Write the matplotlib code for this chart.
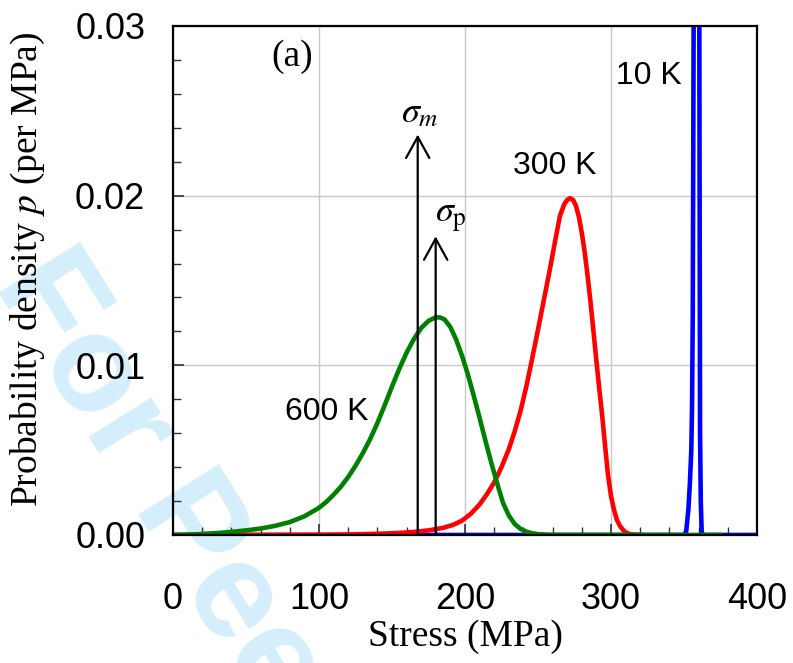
import matplotlib
matplotlib.use("Agg")
import matplotlib.pyplot as plt
from matplotlib.ticker import MultipleLocator, FormatStrFormatter

plt.rcParams['mathtext.fontset'] = 'stix'

# Densidades de probabilidad leidas por puntos (MPa, 1/MPa)
x_10k = [0, 340, 350, 351.5, 353, 354, 355, 355.5, 356, 356.6, 357.2, 358, 358.6,
         359.2, 359.8, 360.5, 361, 361.5, 362.1, 363, 400]
p_10k = [0, 0, 0, 0.0002, 0.0015, 0.003, 0.005, 0.0075, 0.013, 0.030, 0.060, 0.095,
         0.105, 0.095, 0.065, 0.030, 0.006, 0.002, 0.0002, 0, 0]

x_300k = [0, 60, 100, 120, 140, 155, 165, 175, 185, 192, 198, 204, 210, 215, 220,
          225, 230, 234, 238, 242, 246, 250, 254, 258, 262, 265, 268, 270, 272, 274,
          276, 278, 280, 282, 284, 286, 288, 290, 292, 294, 296, 298, 300, 302, 304,
          306, 308, 310, 313, 316, 320]
p_300k = [0, 0, 0.00001, 0.00003, 0.00007, 0.00012, 0.00018, 0.00027, 0.00042,
          0.00060, 0.00085, 0.00125, 0.00180, 0.00240, 0.00310, 0.00400, 0.00505,
          0.00610, 0.00730, 0.00875, 0.01040, 0.01210, 0.01385, 0.01560, 0.01745,
          0.01880, 0.01950, 0.01975, 0.01985, 0.01975, 0.01940, 0.01875, 0.01780,
          0.01665, 0.01525, 0.01370, 0.01200, 0.01025, 0.00860, 0.00700, 0.00520,
          0.00350, 0.00230, 0.00150, 0.00090, 0.00055, 0.00032, 0.00015, 0.00005,
          0.00002, 0]

x_600k = [0, 10, 20, 30, 40, 50, 60, 70, 80, 90, 100, 105, 110, 115, 120, 125, 130,
          135, 140, 145, 150, 155, 160, 165, 170, 175, 180, 183, 186, 190, 194, 198,
          202, 206, 210, 214, 218, 222, 226, 230, 234, 238, 242, 246, 250, 255, 260,
          375]
p_600k = [0, 0.00002, 0.00006, 0.00011, 0.00018, 0.00027, 0.00038, 0.00054, 0.00076,
          0.00110, 0.00160, 0.00195, 0.00237, 0.00285, 0.00342, 0.00408, 0.00482,
          0.00565, 0.00660, 0.00765, 0.00875, 0.00980, 0.01075, 0.01155, 0.01220,
          0.01262, 0.01283, 0.01282, 0.01270, 0.01225, 0.01150, 0.01055, 0.00945,
          0.00820, 0.00690, 0.00555, 0.00425, 0.00305, 0.00190, 0.00115, 0.00065,
          0.00036, 0.00020, 0.00010, 0.00005, 0.00002, 0, 0]

# Tension media y tension de pico (flechas)
sigma_m = 167.6
sigma_m_top = 0.0236
sigma_p = 179.9
sigma_p_top = 0.0176

fig = plt.figure(figsize=(7.93, 6.63), dpi=100)
ax = fig.add_axes([0.2182, 0.1931, 0.7364, 0.7677])
ax.set_facecolor('none')

# Marca de agua de fondo
fig.text(0.03, 0.60, 'For Peer Review', fontsize=100, fontweight='bold',
         family='Liberation Sans', color='#d4effb', rotation=-58,
         rotation_mode='anchor', ha='left', va='center', zorder=-1)

ax.plot(x_10k, p_10k, color='#0000ff', lw=3.3, zorder=3)
ax.plot(x_300k, p_300k, color='#ff0000', lw=3.3, zorder=4)
ax.plot(x_600k, p_600k, color='#008000', lw=3.3, zorder=5)

flecha = dict(arrowstyle='->,head_length=0.38,head_width=0.21', lw=1.6,
              color='black', mutation_scale=40, shrinkA=0, shrinkB=0)
ax.annotate('', xy=(sigma_m, sigma_m_top), xytext=(sigma_m, 0), arrowprops=flecha, zorder=6)
ax.annotate('', xy=(sigma_p, sigma_p_top), xytext=(sigma_p, 0), arrowprops=flecha, zorder=6)

ax.text(169, 0.0249, r'$\sigma_m$', fontsize=26, ha='center', va='center')
ax.text(190.4, 0.0187, r'$\sigma_\mathrm{p}$', fontsize=26, ha='center', va='center')
ax.text(81.5, 0.0282, '(a)', fontsize=27, family='Liberation Serif', ha='center', va='center')

sans = 'Liberation Sans'
ax.text(326, 0.02705, '10 K', fontsize=23, family=sans, ha='center', va='center')
ax.text(261.6, 0.02172, '300 K', fontsize=23, family=sans, ha='center', va='center')
ax.text(105.3, 0.00727, '600 K', fontsize=23, family=sans, ha='center', va='center')

ax.set_xlim(0, 400)
ax.set_ylim(0, 0.03)
ax.xaxis.set_major_locator(MultipleLocator(100))
ax.xaxis.set_minor_locator(MultipleLocator(20))
ax.yaxis.set_major_locator(MultipleLocator(0.01))
ax.yaxis.set_minor_locator(MultipleLocator(0.002))
ax.yaxis.set_major_formatter(FormatStrFormatter('%.2f'))

ax.grid(True, which='major', color='#c8c8c8', lw=1)
ax.tick_params(which='both', direction='in', top=False, right=False, color='#333333')
ax.tick_params(which='major', length=8, width=1.2)
ax.tick_params(which='minor', length=6, width=1)
ax.tick_params(axis='x', which='major', pad=34, labelsize=26)
ax.tick_params(axis='y', which='major', pad=20, labelsize=26)
for lab in ax.get_xticklabels() + ax.get_yticklabels():
    lab.set_family(sans)

for s in ax.spines.values():
    s.set_linewidth(1.6)
    s.set_zorder(7)

ax.set_xlabel('Stress (MPa)', fontsize=27, family='Liberation Serif')
ax.set_ylabel(r'Probability density $p$ (per MPa)', fontsize=27, family='Liberation Serif')
ax.xaxis.set_label_coords(0.5, -0.165)
ax.yaxis.set_label_coords(-0.215, 0.523)

fig.savefig('out.png', dpi=100)
